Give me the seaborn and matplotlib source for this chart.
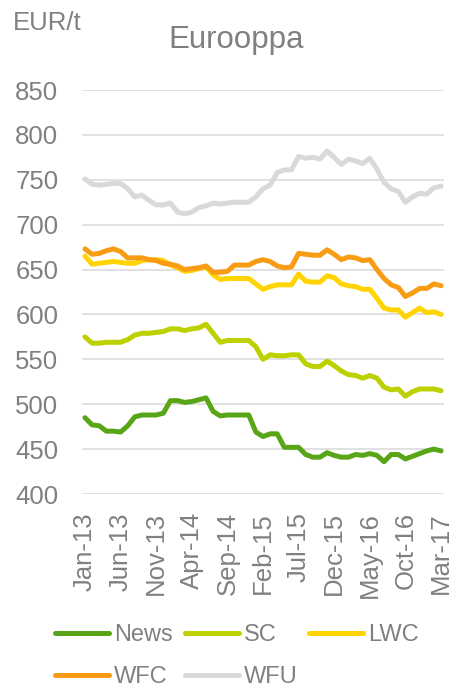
import matplotlib
matplotlib.use("Agg")
import matplotlib.pyplot as plt
import pandas as pd
import seaborn as sns

# Monthly prices, Jan-13 .. Mar-17 (EUR/t)
months = list(pd.date_range("2013-01-01", periods=51, freq="MS").strftime("%b-%y"))

news = [485, 477, 476, 470, 470, 469, 476, 486, 488, 488, 488, 490, 504, 504, 502, 503,
        505, 507, 492, 487, 488, 488, 488, 488, 469, 464, 467, 467, 452, 452, 452, 444,
        441, 441, 446, 443, 441, 441, 444, 443, 445, 443, 436, 444, 444, 439, 442, 445,
        448, 450, 448]
sc = [575, 568, 568, 569, 569, 569, 572, 577, 579, 579, 580, 581, 584, 584, 582, 584,
      585, 589, 579, 569, 571, 571, 571, 571, 564, 550, 555, 554, 554, 555, 555, 545,
      542, 542, 548, 543, 537, 533, 532, 529, 532, 529, 519, 516, 517, 509, 514, 517,
      517, 517, 515]
lwc = [665, 656, 657, 658, 659, 658, 657, 657, 660, 661, 661, 660, 655, 652, 648, 649,
       651, 653, 644, 639, 640, 640, 640, 640, 634, 628, 631, 633, 633, 633, 645, 637,
       636, 636, 643, 641, 634, 632, 631, 628, 628, 618, 607, 605, 605, 597, 602, 607,
       602, 603, 600]
wfc = [673, 667, 668, 671, 673, 670, 663, 663, 663, 661, 660, 657, 656, 654, 650, 651,
       652, 654, 647, 647, 648, 655, 655, 655, 659, 661, 659, 654, 652, 653, 668, 667,
       666, 666, 672, 667, 661, 664, 663, 660, 661, 650, 640, 633, 630, 620, 624, 629,
       629, 634, 632]
wfu = [751, 745, 744, 745, 746, 746, 740, 731, 733, 727, 722, 722, 724, 714, 712, 714,
       719, 721, 724, 723, 724, 725, 725, 725, 731, 740, 744, 758, 761, 761, 776, 774,
       775, 773, 782, 775, 767, 773, 771, 768, 774, 762, 747, 740, 737, 725, 731, 735,
       734, 741, 743]

grades = ["News", "SC", "LWC", "WFC", "WFU"]
colors = ["#58A618", "#BDD000", "#FFD400", "#F89C14", "#D9D9D9"]

df = pd.DataFrame({"News": news, "SC": sc, "LWC": lwc, "WFC": wfc, "WFU": wfu})
df["idx"] = range(len(months))
long_df = df.melt("idx", var_name="grade", value_name="price")

sns.set_theme(style="white")
plt.rcParams["font.family"] = ["Liberation Sans", "DejaVu Sans"]
text_color = "#808080"

fig = plt.figure(figsize=(4.52, 6.9), dpi=100)
ax = fig.add_axes([82 / 452, 1 - 494 / 690, 362 / 452, 404 / 690])

sns.lineplot(
    data=long_df, x="idx", y="price", hue="grade", hue_order=grades,
    palette=dict(zip(grades, colors)), linewidth=3.6, ax=ax, legend=False,
    solid_capstyle="round", solid_joinstyle="round",
)

ax.set_ylim(400, 850)
ax.set_yticks(range(400, 851, 50))
ax.set_xlim(-0.42, 50.42)
ax.set_xticks(range(0, 51, 5))
ax.set_xticklabels(months[::5], rotation=90)
ax.set_xlabel("")
ax.set_ylabel("")
ax.grid(axis="y", color="#D9D9D9", linewidth=1.1)
ax.set_axisbelow(True)
sns.despine(ax=ax, left=True, bottom=True)
ax.tick_params(axis="y", length=0, pad=17, labelsize=18.5, labelcolor=text_color)
ax.tick_params(axis="x", length=0, pad=13, labelsize=18.5, labelcolor=text_color)

fig.text(236 / 452, 1 - 48 / 690, "Eurooppa", ha="center", va="baseline",
         fontsize=22.5, color=text_color)
fig.text(13 / 452, 1 - 30 / 690, "EUR/t", ha="left", va="baseline",
         fontsize=18.5, color=text_color)

# legend filled row by row: matplotlib fills columns, so reorder
handles = {g: plt.Line2D([], [], color=c, linewidth=3.6, solid_capstyle="round")
           for g, c in zip(grades, colors)}
order = ["News", "WFC", "SC", "WFU", "LWC"]
fig.legend([handles[g] for g in order], order, loc="upper left",
           bbox_to_anchor=(55 / 452, 1 - 624 / 690),
           ncol=3, frameon=False, fontsize=17, labelcolor=text_color, borderpad=0,
           handlelength=2.3, handletextpad=0.2, columnspacing=0.5, labelspacing=0.85,
           borderaxespad=0)

fig.savefig("out.png", dpi=100)
